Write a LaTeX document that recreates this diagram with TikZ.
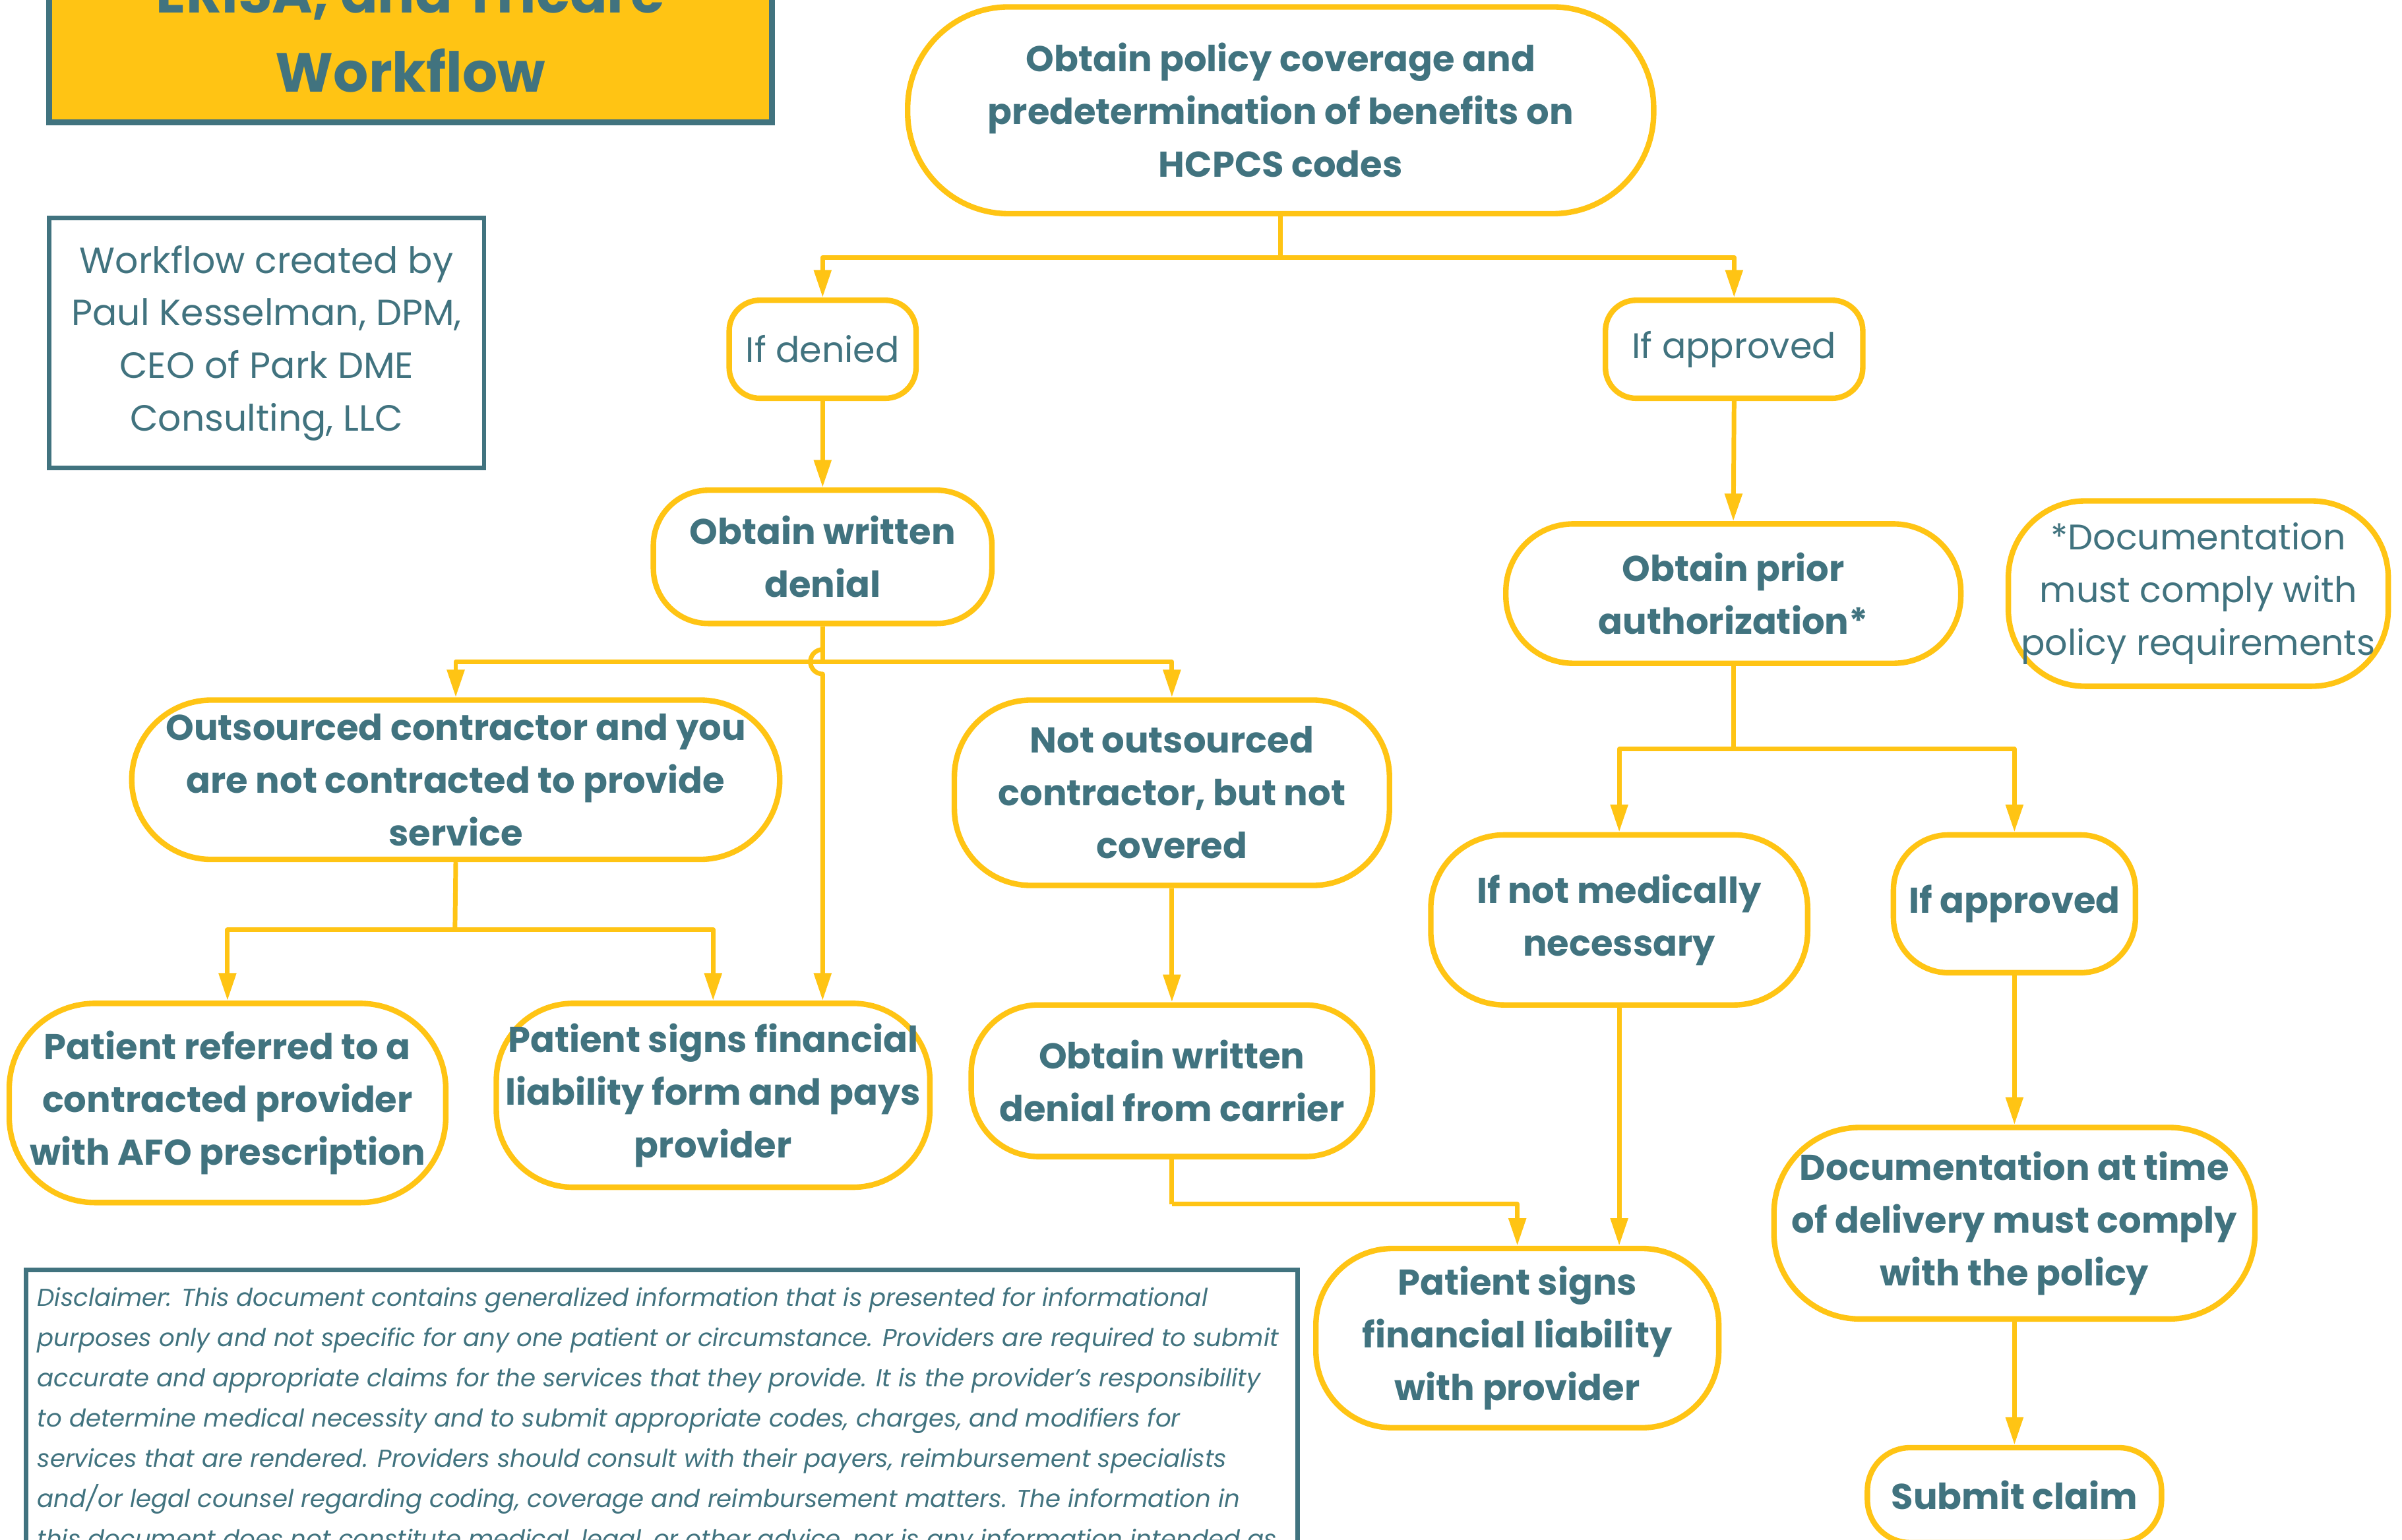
\documentclass[tikz,border=0pt]{standalone}
\usepackage{fontspec}
\setmainfont{Poppins}
\usetikzlibrary{arrows.meta}
\definecolor{flowyellow}{HTML}{FFC414}
\definecolor{flowteal}{HTML}{41737F}
\begin{document}
\begin{tikzpicture}[x = 0.5pt, y = -0.5pt,
        box/.style = {draw = flowyellow, line width = 1.8pt, fill = white, text = flowteal,
            align = center, inner sep = 0pt, font = \bfseries\fontsize{11.7}{17.2}\selectfont},
        thinbox/.style = {box, font = \fontsize{11.6}{17.2}\selectfont},
        link/.style = {draw = flowyellow, line width = 1.5pt, line join = round},
        arrow/.style = {link, -{Triangle[width = 5.5pt, length = 9pt]}}]
        \useasboundingbox (0,0) rectangle (1568,1005);
        \clip (0,0) rectangle (1568,1005);

        \draw[fill = flowyellow, draw = flowteal, line width = 2pt] (32,-80) rectangle (504,80);
        \node[text = flowteal, align = center, font = \bfseries\fontsize{18}{26}\selectfont]
            (title) at (268,20) {ERISA, and Tricare\\Workflow};

        \node[draw = flowteal, line width = 1.5pt, text = flowteal, align = center, inner sep = 0pt,
            minimum width = 142pt, minimum height = 81.5pt, font = \fontsize{11.9}{17.2}\selectfont]
            (credit) at (174,224) {Workflow created by\\Paul Kesselman, DPM,\\CEO of Park DME\\Consulting, LLC};

        \node[box, minimum width = 243.5pt, minimum height = 67.5pt, rounded corners = 33pt]
            (policy) at (836,72) {Obtain policy coverage and\\predetermination of benefits on\\HCPCS codes};
        \node[thinbox, minimum width = 61pt, minimum height = 32pt, rounded corners = 10pt]
            (denied) at (537,228) {If denied};
        \node[thinbox, minimum width = 84pt, minimum height = 32pt, rounded corners = 10pt]
            (approved) at (1132,228) {If approved};
        \node[box, minimum width = 110.5pt, minimum height = 43.5pt, rounded corners = 18pt]
            (wdenial) at (537,363.5) {Obtain written\\denial};
        \node[box, minimum width = 148.5pt, minimum height = 45.5pt, rounded corners = 22pt]
            (prior) at (1131.5,387.5) {Obtain prior\\authorization*};
        \node[thinbox, minimum width = 124pt, minimum height = 60.5pt, rounded corners = 25pt]
            (docnote) at (1435,387.5) {*Documentation\\must comply with\\policy requirements};
        \node[box, minimum width = 211.5pt, minimum height = 52pt, rounded corners = 26pt]
            (outsrc) at (297.5,509) {Outsourced contractor and you\\are not contracted to provide\\service};
        \node[box, minimum width = 142pt, minimum height = 60.5pt, rounded corners = 25pt]
            (notout) at (765,517.5) {Not outsourced\\contractor, but not\\covered};
        \node[box, minimum width = 142.5pt, minimum height = 65pt, rounded corners = 28pt]
            (referred) at (148.5,720) {Patient referred to a\\contracted provider\\with AFO prescription};
        \node[box, minimum width = 141.5pt, minimum height = 60pt, rounded corners = 25pt]
            (signspay) at (465.5,715) {Patient signs financial\\liability form and pays\\provider};
        \node[box, minimum width = 131pt, minimum height = 49.5pt, rounded corners = 22pt]
            (carrier) at (765,705.5) {Obtain written\\denial from carrier};
        \node[box, minimum width = 123pt, minimum height = 55.5pt, rounded corners = 24pt]
            (notmed) at (1057,600.5) {If not medically\\necessary};
        \node[box, minimum width = 79pt, minimum height = 45pt, rounded corners = 18pt]
            (approvedb) at (1315,590) {If approved};
        \node[box, minimum width = 131.5pt, minimum height = 58.5pt, rounded corners = 25pt]
            (signsprov) at (990.5,873.5) {Patient signs\\financial liability\\with provider};
        \node[box, minimum width = 157pt, minimum height = 62.5pt, rounded corners = 28pt]
            (docdeliv) at (1315,798.5) {Documentation at time\\of delivery must comply\\with the policy};
        \node[box, minimum width = 96pt, minimum height = 31pt, rounded corners = 14pt]
            (submit) at (1315,976) {Submit claim};

        \coordinate (splitpolicy) at (836,168);
        \coordinate (splitdenial) at (537,432);
        \coordinate (splitoutsrc) at (297,607);
        \coordinate (splitcarrier) at (765,786);
        \coordinate (splitprior) at (1131.5,489);

        \draw[link] (policy.south) -- (splitpolicy);
        \draw[arrow] (splitpolicy) -| (denied.north);
        \draw[arrow] (splitpolicy) -| (approved.north);
        \draw[arrow] (denied.south) -- (wdenial.north);
        \draw[arrow] (approved.south) -- (prior.north);

        \draw[link] (wdenial.south) -- (splitdenial);
        \draw[arrow] (splitdenial) -| (outsrc.north);
        \draw[arrow] (splitdenial) -| (notout.north);
        \draw[arrow] (wdenial.south) -- ([yshift = 4pt]splitdenial)
            arc[start angle = 90, end angle = 270, radius = 4pt]
            -- (wdenial.south |- signspay.north);

        \draw[link] (outsrc.south) -- (splitoutsrc);
        \draw[arrow] (splitoutsrc) -| (referred.north);
        \draw[arrow] (splitoutsrc) -| (signspay.north);

        \draw[arrow] (notout.south) -- (carrier.north);
        \draw[link] (carrier.south) -- (splitcarrier);
        \draw[arrow] (splitcarrier) -| (signsprov.north);

        \draw[link] (prior.south) -- (splitprior);
        \draw[arrow] (splitprior) -| (notmed.north);
        \draw[arrow] (splitprior) -| (approvedb.north);
        \draw[arrow] (notmed.south) -- (notmed.south |- signsprov.north);
        \draw[arrow] (approvedb.south) -- (docdeliv.north);
        \draw[arrow] (docdeliv.south) -- (submit.north);

        \draw[draw = flowteal, line width = 1.5pt] (17,829) rectangle (847,1060);
        \node[anchor = north west, text = flowteal, align = left, inner sep = 0pt,
            font = \itshape\fontsize{8}{13.15}\selectfont] (disclaimer) at (24,840)
            {Disclaimer: This document contains generalized information that is presented for informational\\
            purposes only and not specific for any one patient or circumstance. Providers are required to submit\\
            accurate and appropriate claims for the services that they provide. It is the provider’s responsibility\\
            to determine medical necessity and to submit appropriate codes, charges, and modifiers for\\
            services that are rendered. Providers should consult with their payers, reimbursement specialists\\
            and/or legal counsel regarding coding, coverage and reimbursement matters. The information in\\
            this document does not constitute medical, legal, or other advice, nor is any information intended as};
\end{tikzpicture}
\end{document}
